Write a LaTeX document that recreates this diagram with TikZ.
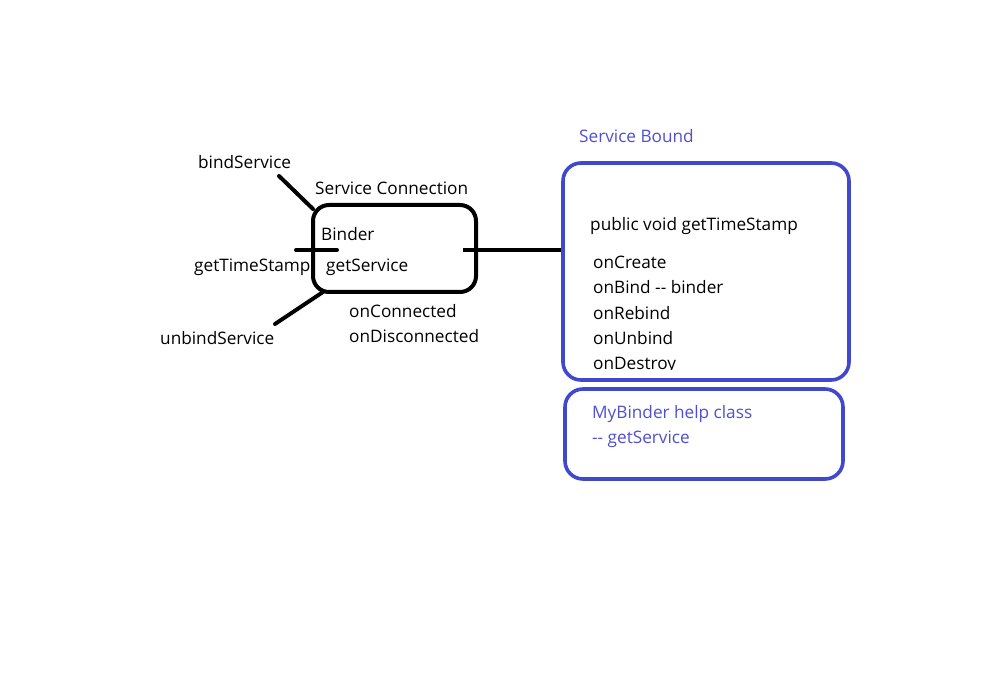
\documentclass[tikz,border=0pt]{standalone}
\usepackage{fontspec}
\setmainfont{Open Sans}
\definecolor{bbox}{RGB}{64,72,204}
\definecolor{btext}{RGB}{80,80,210}
\begin{document}
\begin{tikzpicture}[x=1pt,y=-1pt,
  lbl/.style={anchor=west,inner sep=0pt,text height=11pt,text depth=3pt,yshift=-3pt,font=\fontsize{17.2}{20}\selectfont},
  blbl/.style={lbl,text=btext},
  stroke/.style={line width=4pt,line cap=round},
  bstroke/.style={line width=3.6pt,draw=bbox,rounded corners=18pt}]
\useasboundingbox[fill=white] (0,0) rectangle (1000,700);
% Service Connection box
\node[draw,line width=4pt,rounded corners=16pt,minimum width=163pt,minimum height=87pt,inner sep=0pt] (sc) at (394.5,248.5) {};
% Service Bound boxes
\node[draw,bstroke,minimum width=286pt,minimum height=217pt,inner sep=0pt] (sb) at (706,271.5) {};
\node[draw,bstroke,minimum width=278pt,minimum height=90pt,inner sep=0pt] (mb) at (704,434) {};
% connector coordinates
\coordinate (b1) at (279,176);
\coordinate (b2) at (313,209);
\coordinate (u1) at (275,324);
\coordinate (u2) at (323,292);
\coordinate (g1) at (296,250);
\coordinate (g2) at (337,250);
\coordinate (r1) at (463,250);
\coordinate (r2) at (561,250);
\draw[stroke] (b1) -- (b2);
\draw[stroke] (u1) -- (u2);
\draw[stroke] (g1) -- (g2);
\draw[stroke,line cap=butt] (r1) -- (r2);
% texts
\node[lbl] (tbind) at (198,162) {bindService};
\node[lbl] (tsc) at (315,188) {Service Connection};
\node[lbl] (tbinder) at (321,234) {Binder};
\node[lbl] (tgts) at (194,265) {getTimeStamp};
\node[lbl] (tgs) at (326,265) {getService};
\node[lbl] (tcon) at (349,310) {onConnected};
\node[lbl] (tdis) at (349,335) {onDisconnected};
\node[lbl] (tunb) at (160,337) {unbindService};
\node[blbl] (tsb) at (579,136) {Service Bound};
\node[lbl] (tpub) at (590,224) {public void getTimeStamp};
\node[lbl] (t1) at (593,262) {onCreate};
\node[lbl] (t2) at (593,287) {onBind {-}{-} binder};
\node[lbl] (t3) at (593,312) {onRebind};
\node[lbl] (t4) at (593,337) {onUnbind};
\begin{scope}
\clip (580,340) rectangle (800,369);
\node[lbl] (t5) at (593,362) {onDestroy};
\end{scope}
\node[blbl] (tmb) at (592,411) {MyBinder help class};
\node[blbl] (tgs2) at (592,436) {{-}{-} getService};
\end{tikzpicture}
\end{document}
